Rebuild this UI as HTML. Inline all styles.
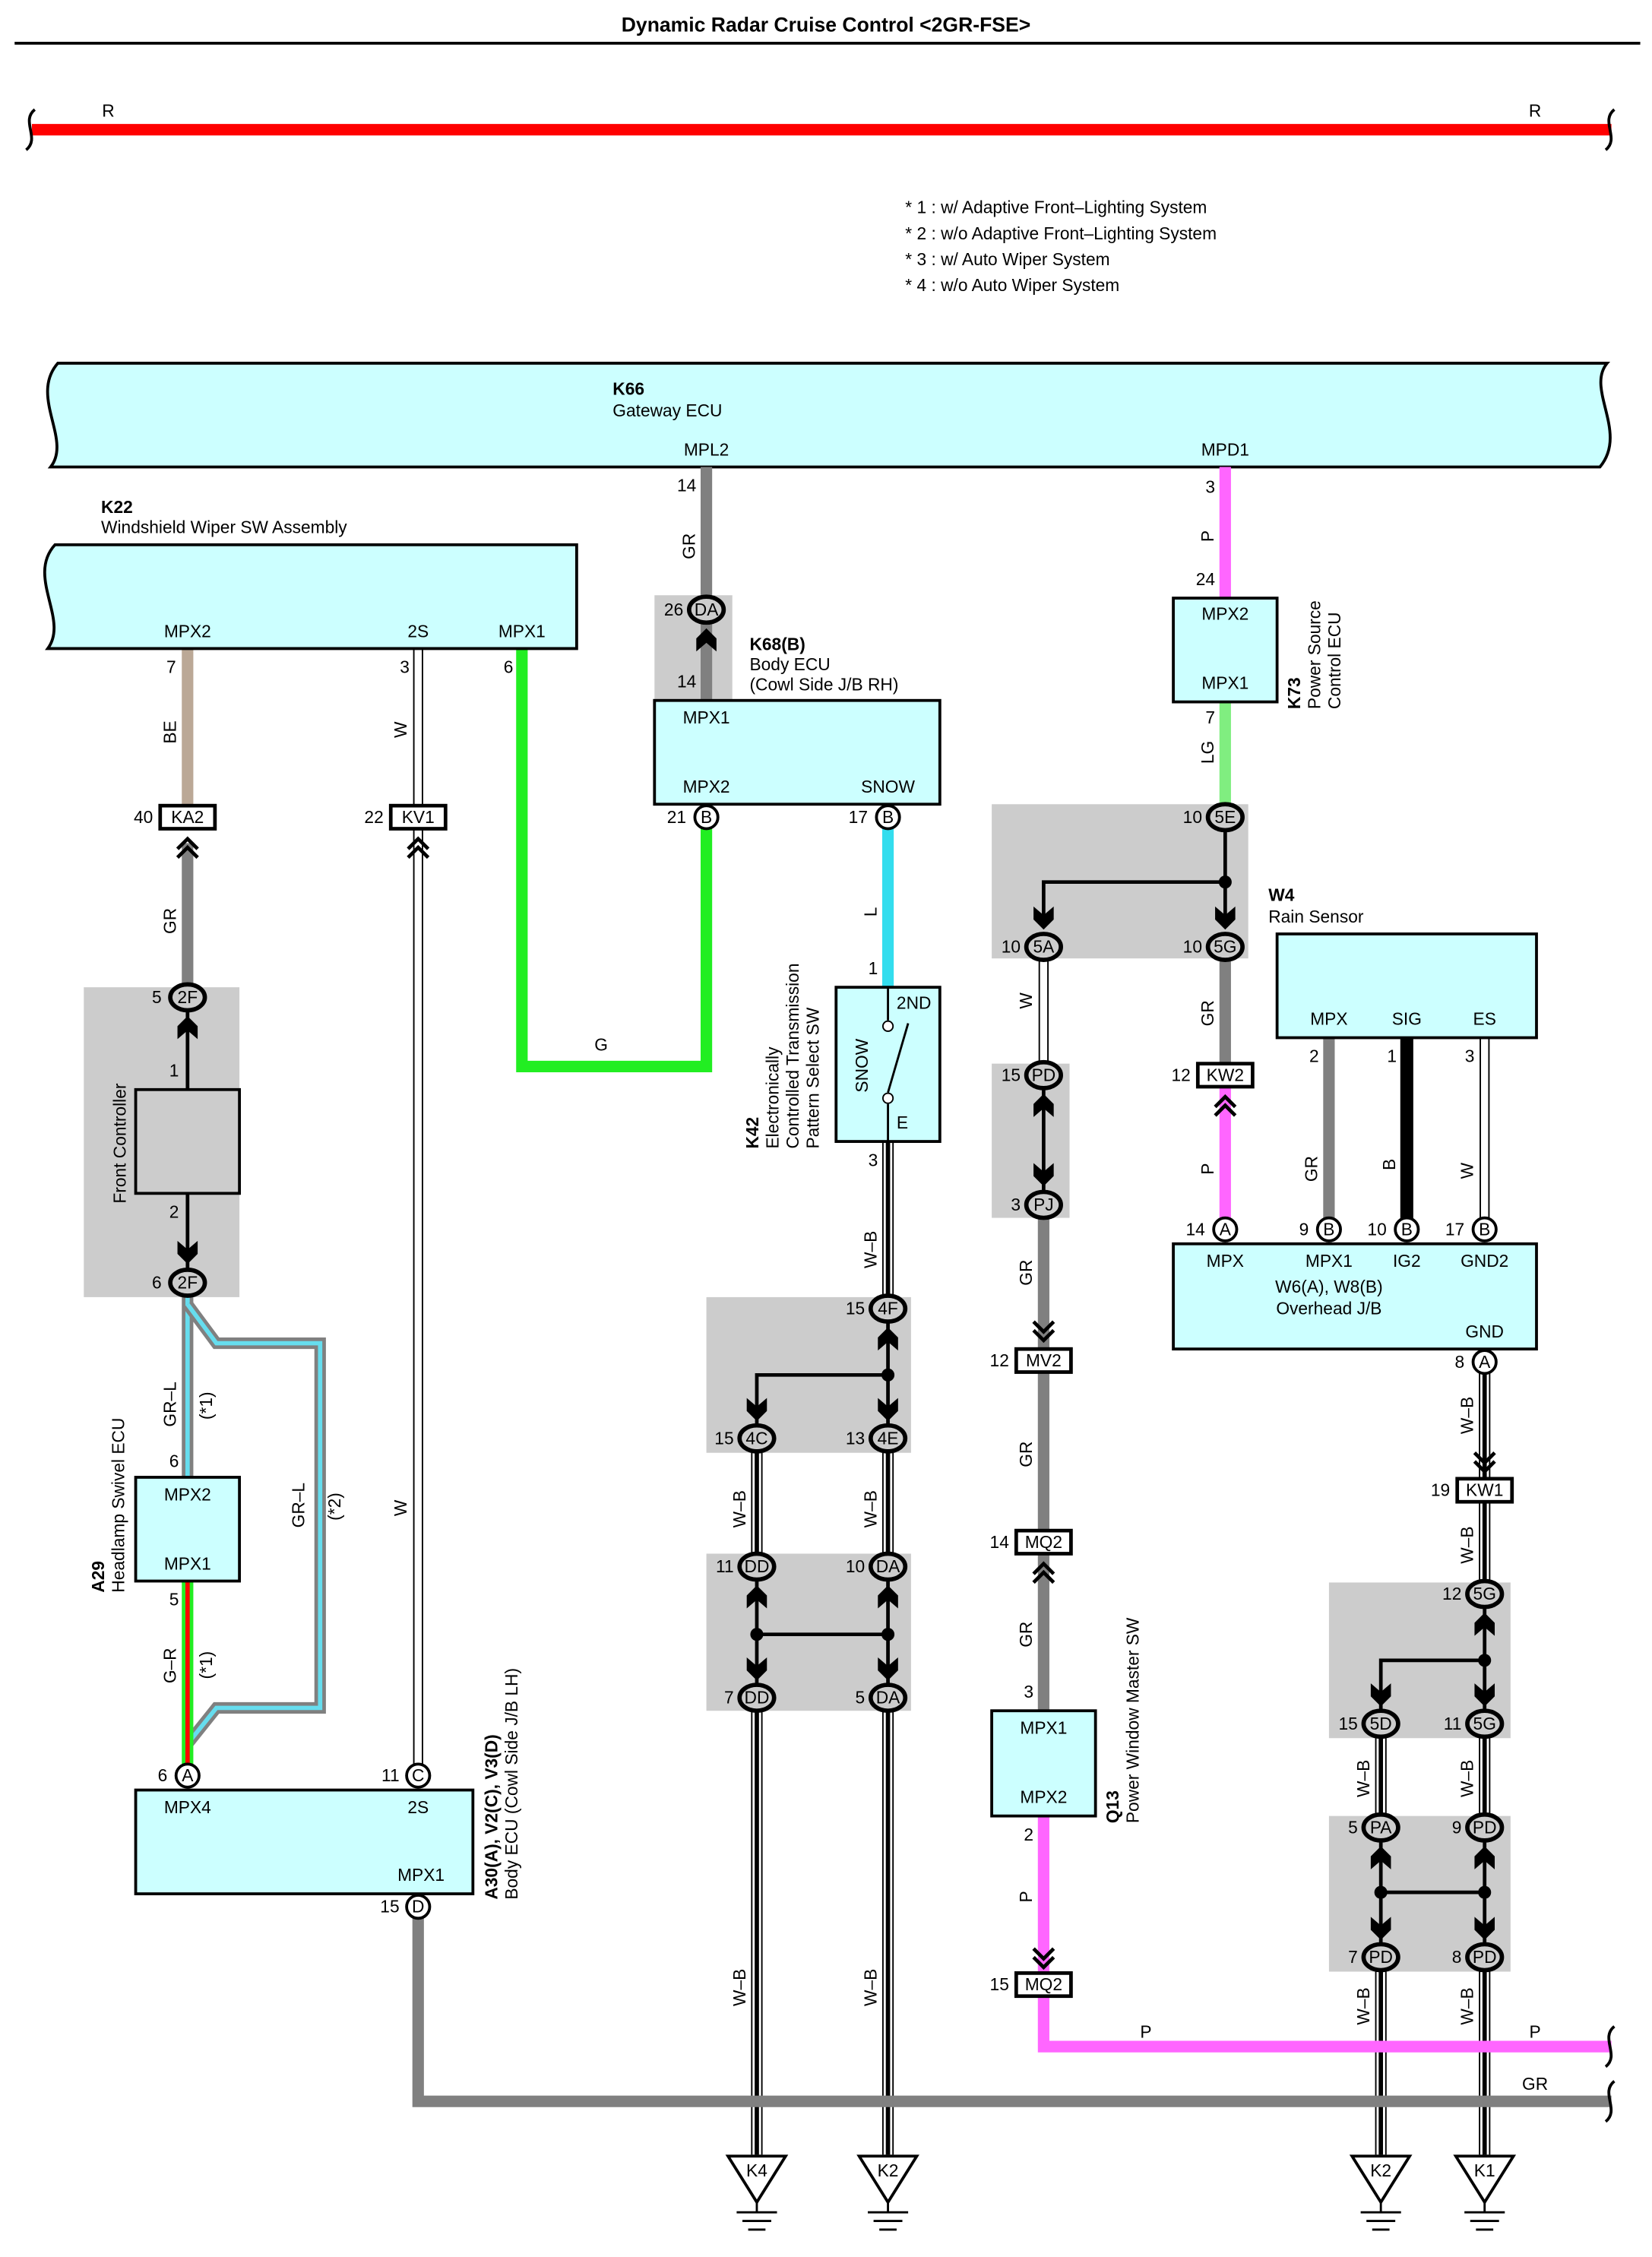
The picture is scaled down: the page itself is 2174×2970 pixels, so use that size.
<!DOCTYPE html>
<html><head><meta charset="utf-8"><style>
html,body{margin:0;padding:0;background:#fff}
svg{display:block}
text{font-family:"Liberation Sans",sans-serif;font-size:12px;fill:#000}
.b{font-weight:bold}
.c{text-anchor:middle}
.e{text-anchor:end}
.cn{font-size:12px;text-anchor:middle}
</style></head><body>
<svg width="2174" height="2970" viewBox="0 0 1146 1566" xmlns="http://www.w3.org/2000/svg">
<defs>
<path id="ad" d="M-7,-9 L-7,0 L0,7 L7,0 L7,-9 L0,-3 Z" fill="#000"/>
<path id="au" d="M-7,9 L-7,0 L0,-7 L7,0 L7,9 L0,3 Z" fill="#000"/>
<path id="cd" d="M-7,-8 L0,-1 L7,-8 M-7,-2 L0,5 L7,-2" stroke="#000" stroke-width="2.5" fill="none"/>
<path id="cu" d="M-7,8 L0,1 L7,8 M-7,2 L0,-5 L7,2" stroke="#000" stroke-width="2.5" fill="none"/>
</defs>
<text x="573" y="22" class="b c" style="font-size:14px">Dynamic Radar Cruise Control &lt;2GR-FSE&gt;</text>
<line x1="10" y1="30" x2="1138" y2="30" stroke="#000" stroke-width="2"/>
<line x1="22" y1="90" x2="1118" y2="90" stroke="#f00" stroke-width="8"/>
<path d="M24,76 C14,84 28,96 18,104" stroke="#000" stroke-width="2" fill="none"/>
<path d="M1120,76 C1110,84 1124,96 1114,104" stroke="#000" stroke-width="2" fill="none"/>
<text x="75" y="81" class="c">R</text><text x="1065" y="81" class="c">R</text>
<text x="628" y="148">* 1 : w/ Adaptive Front–Lighting System</text>
<text x="628" y="166">* 2 : w/o Adaptive Front–Lighting System</text>
<text x="628" y="184">* 3 : w/ Auto Wiper System</text>
<text x="628" y="202">* 4 : w/o Auto Wiper System</text>
<path d="M40,252 L1115,252 C1100,270 1130,300 1110,324 L35,324 C50,305 20,275 40,252 Z" fill="#ccffff" stroke="#000" stroke-width="2"/>
<text x="425" y="274" class="b">K66</text><text x="425" y="289">Gateway ECU</text>
<text x="490" y="316" class="c">MPL2</text><text x="850" y="316" class="c">MPD1</text>
<g fill="#cccccc">
<rect x="454" y="413" width="54" height="73"/>
<rect x="58" y="685" width="108" height="215"/>
<rect x="688" y="558" width="178" height="107"/>
<rect x="688" y="738" width="54" height="107"/>
<rect x="490" y="900" width="142" height="108"/>
<rect x="490" y="1078" width="142" height="109"/>
<rect x="922" y="1098" width="126" height="108"/>
<rect x="922" y="1260" width="126" height="108"/>
</g>
<g fill="none" stroke-linejoin="miter">
<line x1="490" y1="324" x2="490" y2="415" stroke="#808080" stroke-width="8"/>
<line x1="490" y1="430" x2="490" y2="486" stroke="#808080" stroke-width="8"/>
<line x1="850" y1="324" x2="850" y2="415" stroke="#ff66ff" stroke-width="8"/>
<line x1="850" y1="487" x2="850" y2="558" stroke="#80ee80" stroke-width="8"/>
<line x1="130" y1="450" x2="130" y2="558" stroke="#bba896" stroke-width="8"/>
<line x1="130" y1="585" x2="130" y2="685" stroke="#808080" stroke-width="8"/>
<polyline points="362,450 362,740 490,740 490,575" stroke="#22ee22" stroke-width="8"/>
<line x1="616" y1="575" x2="616" y2="685" stroke="#33ddee" stroke-width="8"/>
<polyline points="130,900 130,1025" stroke="#808080" stroke-width="8"/>
<polyline points="130,900 130,1025" stroke="#66ddee" stroke-width="3"/>
<polyline points="130,905 150,932 222,932 222,1185 150,1185 130,1210" stroke="#808080" stroke-width="8"/>
<polyline points="130,905 150,932 222,932 222,1185 150,1185 130,1210" stroke="#66ddee" stroke-width="3"/>
<line x1="130" y1="1097" x2="130" y2="1225" stroke="#22ee22" stroke-width="8"/>
<line x1="130" y1="1097" x2="130" y2="1225" stroke="#f00" stroke-width="3"/>
<g stroke="#000" stroke-width="7"><line x1="290" y1="450" x2="290" y2="1225"/><line x1="724" y1="665" x2="724" y2="738"/><line x1="1030" y1="720" x2="1030" y2="853"/></g>
<g stroke="#fff" stroke-width="5"><line x1="290" y1="450" x2="290" y2="1225"/><line x1="724" y1="665" x2="724" y2="738"/><line x1="1030" y1="720" x2="1030" y2="853"/></g>
<!-- W-B wires -->
<g id="wb" stroke="#000" stroke-width="8">
<line x1="616" y1="792" x2="616" y2="900"/><line x1="616" y1="1008" x2="616" y2="1078"/><line x1="616" y1="1187" x2="616" y2="1495"/>
<line x1="525" y1="1008" x2="525" y2="1078"/><line x1="525" y1="1187" x2="525" y2="1495"/>
<line x1="1030" y1="945" x2="1030" y2="1098"/><line x1="1030" y1="1206" x2="1030" y2="1260"/><line x1="1030" y1="1368" x2="1030" y2="1495"/>
<line x1="958" y1="1206" x2="958" y2="1260"/><line x1="958" y1="1368" x2="958" y2="1495"/>
</g>
<g stroke="#fff" stroke-width="6">
<line x1="616" y1="792" x2="616" y2="900"/><line x1="616" y1="1008" x2="616" y2="1078"/><line x1="616" y1="1187" x2="616" y2="1495"/>
<line x1="525" y1="1008" x2="525" y2="1078"/><line x1="525" y1="1187" x2="525" y2="1495"/>
<line x1="1030" y1="945" x2="1030" y2="1098"/><line x1="1030" y1="1206" x2="1030" y2="1260"/><line x1="1030" y1="1368" x2="1030" y2="1495"/>
<line x1="958" y1="1206" x2="958" y2="1260"/><line x1="958" y1="1368" x2="958" y2="1495"/>
</g>
<g stroke="#000" stroke-width="3">
<line x1="616" y1="792" x2="616" y2="900"/><line x1="616" y1="1008" x2="616" y2="1078"/><line x1="616" y1="1187" x2="616" y2="1495"/>
<line x1="525" y1="1008" x2="525" y2="1078"/><line x1="525" y1="1187" x2="525" y2="1495"/>
<line x1="1030" y1="945" x2="1030" y2="1098"/><line x1="1030" y1="1206" x2="1030" y2="1260"/><line x1="1030" y1="1368" x2="1030" y2="1495"/>
<line x1="958" y1="1206" x2="958" y2="1260"/><line x1="958" y1="1368" x2="958" y2="1495"/>
</g>
<line x1="724" y1="845" x2="724" y2="1187" stroke="#808080" stroke-width="8"/>
<line x1="850" y1="665" x2="850" y2="738" stroke="#808080" stroke-width="8"/>
<line x1="922" y1="720" x2="922" y2="853" stroke="#808080" stroke-width="8"/>
<line x1="976" y1="720" x2="976" y2="853" stroke="#000" stroke-width="9"/>
<polyline points="290,1330 290,1458 1118,1458" stroke="#808080" stroke-width="8"/>
<line x1="850" y1="755" x2="850" y2="853" stroke="#ff66ff" stroke-width="8"/>
<polyline points="724,1260 724,1420 1118,1420" stroke="#ff66ff" stroke-width="8"/>
<g stroke="#000" stroke-width="2.5">
<line x1="850" y1="575" x2="850" y2="640"/><polyline points="850,612 724,612 724,640"/>
<line x1="724" y1="755" x2="724" y2="828"/>
<line x1="616" y1="915" x2="616" y2="990"/><polyline points="616,954 525,954 525,990"/>
<line x1="525" y1="1095" x2="525" y2="1170"/><line x1="616" y1="1095" x2="616" y2="1170"/><line x1="525" y1="1134" x2="616" y2="1134"/>
<line x1="1030" y1="1114" x2="1030" y2="1188"/><polyline points="1030,1152 958,1152 958,1188"/>
<line x1="958" y1="1276" x2="958" y2="1350"/><line x1="1030" y1="1276" x2="1030" y2="1350"/><line x1="958" y1="1313" x2="1030" y2="1313"/>
<line x1="130" y1="700" x2="130" y2="756"/><line x1="130" y1="828" x2="130" y2="882"/>
</g>
</g>
<path d="M1120,1406 C1110,1414 1124,1426 1114,1434" stroke="#000" stroke-width="2" fill="none"/>
<path d="M1120,1444 C1110,1452 1124,1464 1114,1472" stroke="#000" stroke-width="2" fill="none"/>
<g><circle cx="850" cy="612" r="4.5"/><circle cx="616" cy="954" r="4.5"/><circle cx="525" cy="1134" r="4.5"/><circle cx="616" cy="1134" r="4.5"/><circle cx="1030" cy="1152" r="4.5"/><circle cx="958" cy="1313" r="4.5"/><circle cx="1030" cy="1313" r="4.5"/></g>
<path d="M38,378 L400,378 L400,450 L33,450 C48,430 18,400 38,378 Z" fill="#ccffff" stroke="#000" stroke-width="2"/>
<text x="70" y="356" class="b">K22</text><text x="70" y="370">Windshield Wiper SW Assembly</text>
<text x="130" y="442" class="c">MPX2</text><text x="290" y="442" class="c">2S</text><text x="362" y="442" class="c">MPX1</text>
<text x="122" y="467" class="e">7</text><text x="284" y="467" class="e">3</text><text x="356" y="467" class="e">6</text>
<rect x="454" y="486" width="198" height="72" fill="#ccffff" stroke="#000" stroke-width="2"/>
<text x="520" y="451" class="b">K68(B)</text><text x="520" y="465">Body ECU</text><text x="520" y="479">(Cowl Side J/B RH)</text>
<text x="490" y="502" class="c">MPX1</text><text x="490" y="550" class="c">MPX2</text><text x="616" y="550" class="c">SNOW</text>
<text x="483" y="341" class="e">14</text><text x="483" y="477" class="e">14</text>
<rect x="814" y="415" width="72" height="72" fill="#ccffff" stroke="#000" stroke-width="2"/>
<text x="850" y="430" class="c">MPX2</text><text x="850" y="478" class="c">MPX1</text>
<text x="843" y="342" class="e">3</text><text x="843" y="406" class="e">24</text><text x="843" y="502" class="e">7</text>
<g transform="translate(902,492) rotate(-90)"><text class="b">K73</text></g>
<g transform="translate(916,492) rotate(-90)"><text>Power Source</text></g>
<g transform="translate(930,492) rotate(-90)"><text>Control ECU</text></g>
<rect x="94" y="756" width="72" height="72" fill="#cccccc" stroke="#000" stroke-width="2"/>
<g transform="translate(87,835) rotate(-90)"><text>Front Controller</text></g>
<text x="124" y="747" class="e">1</text><text x="124" y="845" class="e">2</text>
<rect x="94" y="1025" width="72" height="72" fill="#ccffff" stroke="#000" stroke-width="2"/>
<text x="130" y="1041" class="c">MPX2</text><text x="130" y="1089" class="c">MPX1</text>
<text x="124" y="1018" class="e">6</text><text x="124" y="1114" class="e">5</text>
<g transform="translate(72,1105) rotate(-90)"><text class="b">A29</text></g>
<g transform="translate(86,1105) rotate(-90)"><text>Headlamp Swivel ECU</text></g>
<rect x="94" y="1242" width="234" height="72" fill="#ccffff" stroke="#000" stroke-width="2"/>
<text x="130" y="1258" class="c">MPX4</text><text x="290" y="1258" class="c">2S</text><text x="292" y="1305" class="c">MPX1</text>
<text x="116" y="1236" class="e">6</text><text x="277" y="1236" class="e">11</text><text x="277" y="1327" class="e">15</text>
<g transform="translate(345,1318) rotate(-90)"><text class="b">A30(A), V2(C), V3(D)</text></g>
<g transform="translate(359,1318) rotate(-90)"><text>Body ECU (Cowl Side J/B LH)</text></g>
<rect x="580" y="685" width="72" height="107" fill="#ccffff" stroke="#000" stroke-width="2"/>
<text x="634" y="700" class="c">2ND</text><text x="626" y="783" class="c">E</text>
<g transform="translate(602,758) rotate(-90)"><text>SNOW</text></g>
<line x1="616" y1="685" x2="616" y2="708" stroke="#000" stroke-width="1.5"/><line x1="616" y1="766" x2="616" y2="792" stroke="#000" stroke-width="1.5"/>
<circle cx="616" cy="712" r="3.5" fill="#fff" stroke="#000"/><circle cx="616" cy="762" r="3.5" fill="#fff" stroke="#000"/>
<line x1="616" y1="758" x2="630" y2="710" stroke="#000" stroke-width="1.5"/>
<text x="609" y="676" class="e">1</text><text x="609" y="809" class="e">3</text>
<g transform="translate(526,797) rotate(-90)"><text class="b">K42</text></g>
<g transform="translate(540,797) rotate(-90)"><text>Electronically</text></g>
<g transform="translate(554,797) rotate(-90)"><text>Controlled Transmission</text></g>
<g transform="translate(568,797) rotate(-90)"><text>Pattern Select SW</text></g>
<rect x="688" y="1187" width="72" height="73" fill="#ccffff" stroke="#000" stroke-width="2"/>
<text x="724" y="1203" class="c">MPX1</text><text x="724" y="1251" class="c">MPX2</text>
<text x="717" y="1178" class="e">3</text><text x="717" y="1277" class="e">2</text>
<g transform="translate(776,1265) rotate(-90)"><text class="b">Q13</text></g>
<g transform="translate(790,1265) rotate(-90)"><text>Power Window Master SW</text></g>
<rect x="886" y="648" width="180" height="72" fill="#ccffff" stroke="#000" stroke-width="2"/>
<text x="880" y="625" class="b">W4</text><text x="880" y="640">Rain Sensor</text>
<text x="922" y="711" class="c">MPX</text><text x="976" y="711" class="c">SIG</text><text x="1030" y="711" class="c">ES</text>
<text x="915" y="737" class="e">2</text><text x="969" y="737" class="e">1</text><text x="1023" y="737" class="e">3</text>
<rect x="814" y="863" width="252" height="73" fill="#ccffff" stroke="#000" stroke-width="2"/>
<text x="850" y="879" class="c">MPX</text><text x="922" y="879" class="c">MPX1</text><text x="976" y="879" class="c">IG2</text><text x="1030" y="879" class="c">GND2</text>
<text x="922" y="897" class="c">W6(A), W8(B)</text><text x="922" y="912" class="c">Overhead J/B</text><text x="1030" y="928" class="c">GND</text>
<g transform="translate(482,388) rotate(-90)"><text>GR</text></g>
<g transform="translate(842,376) rotate(-90)"><text>P</text></g>
<g transform="translate(842,530) rotate(-90)"><text>LG</text></g>
<g transform="translate(122,516) rotate(-90)"><text>BE</text></g>
<g transform="translate(122,648) rotate(-90)"><text>GR</text></g>
<g transform="translate(282,512) rotate(-90)"><text>W</text></g>
<g transform="translate(282,1052) rotate(-90)"><text>W</text></g>
<g transform="translate(608,636) rotate(-90)"><text>L</text></g>
<g transform="translate(122,990) rotate(-90)"><text>GR–L</text></g>
<g transform="translate(147,985) rotate(-90)"><text>(*1)</text></g>
<g transform="translate(211,1060) rotate(-90)"><text>GR–L</text></g>
<g transform="translate(236,1055) rotate(-90)"><text>(*2)</text></g>
<g transform="translate(122,1168) rotate(-90)"><text>G–R</text></g>
<g transform="translate(147,1165) rotate(-90)"><text>(*1)</text></g>
<g transform="translate(608,880) rotate(-90)"><text>W–B</text></g>
<g transform="translate(517,1060) rotate(-90)"><text>W–B</text></g>
<g transform="translate(608,1060) rotate(-90)"><text>W–B</text></g>
<g transform="translate(517,1392) rotate(-90)"><text>W–B</text></g>
<g transform="translate(608,1392) rotate(-90)"><text>W–B</text></g>
<g transform="translate(716,700) rotate(-90)"><text>W</text></g>
<g transform="translate(716,892) rotate(-90)"><text>GR</text></g>
<g transform="translate(716,1018) rotate(-90)"><text>GR</text></g>
<g transform="translate(716,1143) rotate(-90)"><text>GR</text></g>
<g transform="translate(716,1320) rotate(-90)"><text>P</text></g>
<g transform="translate(842,712) rotate(-90)"><text>GR</text></g>
<g transform="translate(842,815) rotate(-90)"><text>P</text></g>
<g transform="translate(914,820) rotate(-90)"><text>GR</text></g>
<g transform="translate(968,812) rotate(-90)"><text>B</text></g>
<g transform="translate(1022,818) rotate(-90)"><text>W</text></g>
<g transform="translate(1022,995) rotate(-90)"><text>W–B</text></g>
<g transform="translate(1022,1085) rotate(-90)"><text>W–B</text></g>
<g transform="translate(950,1247) rotate(-90)"><text>W–B</text></g>
<g transform="translate(1022,1247) rotate(-90)"><text>W–B</text></g>
<g transform="translate(950,1405) rotate(-90)"><text>W–B</text></g>
<g transform="translate(1022,1405) rotate(-90)"><text>W–B</text></g>
<text x="417" y="729" class="c">G</text>
<text x="795" y="1414" class="c">P</text><text x="1065" y="1414" class="c">P</text><text x="1065" y="1450" class="c">GR</text>
<g fill="#fff" stroke="#000" stroke-width="2.5">
<rect x="111" y="559" width="38" height="16"/><rect x="271" y="559" width="38" height="16"/>
<rect x="831" y="738" width="38" height="16"/><rect x="705" y="936" width="38" height="16"/>
<rect x="705" y="1062" width="38" height="16"/><rect x="705" y="1369" width="38" height="16"/>
<rect x="1011" y="1026" width="38" height="16"/>
</g>
<text x="130" y="571" class="cn">KA2</text><text x="290" y="571" class="cn">KV1</text>
<text x="850" y="750" class="cn">KW2</text><text x="724" y="948" class="cn">MV2</text>
<text x="724" y="1074" class="cn">MQ2</text><text x="724" y="1381" class="cn">MQ2</text>
<text x="1030" y="1038" class="cn">KW1</text>
<text x="106" y="571" class="e">40</text><text x="266" y="571" class="e">22</text><text x="826" y="750" class="e">12</text>
<text x="700" y="948" class="e">12</text><text x="700" y="1074" class="e">14</text><text x="700" y="1381" class="e">15</text><text x="1006" y="1038" class="e">19</text>
<use href="#cu" x="130" y="587"/><use href="#cu" x="290" y="587"/><use href="#cu" x="850" y="766"/>
<use href="#cd" x="724" y="925"/><use href="#cu" x="724" y="1090"/><use href="#cd" x="724" y="1360"/><use href="#cd" x="1030" y="1016"/>
<use href="#au" x="130" y="712"/><use href="#ad" x="130" y="870"/>
<use href="#ad" x="724" y="638"/><use href="#ad" x="850" y="638"/>
<use href="#au" x="724" y="766"/><use href="#ad" x="724" y="816"/>
<use href="#au" x="616" y="928"/><use href="#ad" x="525" y="979"/><use href="#ad" x="616" y="979"/>
<use href="#au" x="525" y="1107"/><use href="#au" x="616" y="1107"/><use href="#ad" x="525" y="1159"/><use href="#ad" x="616" y="1159"/>
<use href="#au" x="1030" y="1126"/><use href="#ad" x="958" y="1177"/><use href="#ad" x="1030" y="1177"/>
<use href="#au" x="958" y="1288"/><use href="#au" x="1030" y="1288"/><use href="#ad" x="958" y="1339"/><use href="#ad" x="1030" y="1339"/>
<use href="#au" x="490" y="443"/>
<g fill="#cccccc" stroke="#000" stroke-width="3">
<ellipse cx="490" cy="423" rx="12" ry="9"/><ellipse cx="130" cy="692" rx="12" ry="9"/><ellipse cx="130" cy="890" rx="12" ry="9"/>
<ellipse cx="850" cy="567" rx="12" ry="9"/><ellipse cx="724" cy="657" rx="12" ry="9"/><ellipse cx="850" cy="657" rx="12" ry="9"/>
<ellipse cx="724" cy="746" rx="12" ry="9"/><ellipse cx="724" cy="836" rx="12" ry="9"/>
<ellipse cx="616" cy="908" rx="12" ry="9"/><ellipse cx="525" cy="998" rx="12" ry="9"/><ellipse cx="616" cy="998" rx="12" ry="9"/>
<ellipse cx="525" cy="1087" rx="12" ry="9"/><ellipse cx="616" cy="1087" rx="12" ry="9"/><ellipse cx="525" cy="1178" rx="12" ry="9"/><ellipse cx="616" cy="1178" rx="12" ry="9"/>
<ellipse cx="1030" cy="1106" rx="12" ry="9"/><ellipse cx="958" cy="1196" rx="12" ry="9"/><ellipse cx="1030" cy="1196" rx="12" ry="9"/>
<ellipse cx="958" cy="1268" rx="12" ry="9"/><ellipse cx="1030" cy="1268" rx="12" ry="9"/><ellipse cx="958" cy="1358" rx="12" ry="9"/><ellipse cx="1030" cy="1358" rx="12" ry="9"/>
</g>
<text x="490" y="427" class="cn">DA</text><text x="130" y="696" class="cn">2F</text><text x="130" y="894" class="cn">2F</text>
<text x="850" y="571" class="cn">5E</text><text x="724" y="661" class="cn">5A</text><text x="850" y="661" class="cn">5G</text>
<text x="724" y="750" class="cn">PD</text><text x="724" y="840" class="cn">PJ</text>
<text x="616" y="912" class="cn">4F</text><text x="525" y="1002" class="cn">4C</text><text x="616" y="1002" class="cn">4E</text>
<text x="525" y="1091" class="cn">DD</text><text x="616" y="1091" class="cn">DA</text><text x="525" y="1182" class="cn">DD</text><text x="616" y="1182" class="cn">DA</text>
<text x="1030" y="1110" class="cn">5G</text><text x="958" y="1200" class="cn">5D</text><text x="1030" y="1200" class="cn">5G</text>
<text x="958" y="1272" class="cn">PA</text><text x="1030" y="1272" class="cn">PD</text><text x="958" y="1362" class="cn">PD</text><text x="1030" y="1362" class="cn">PD</text>
<text x="474" y="427" class="e">26</text><text x="112" y="696" class="e">5</text><text x="112" y="894" class="e">6</text>
<text x="834" y="571" class="e">10</text><text x="708" y="661" class="e">10</text><text x="834" y="661" class="e">10</text>
<text x="708" y="750" class="e">15</text><text x="708" y="840" class="e">3</text>
<text x="600" y="912" class="e">15</text><text x="509" y="1002" class="e">15</text><text x="600" y="1002" class="e">13</text>
<text x="509" y="1091" class="e">11</text><text x="600" y="1091" class="e">10</text><text x="509" y="1182" class="e">7</text><text x="600" y="1182" class="e">5</text>
<text x="1014" y="1110" class="e">12</text><text x="942" y="1200" class="e">15</text><text x="1014" y="1200" class="e">11</text>
<text x="942" y="1272" class="e">5</text><text x="1014" y="1272" class="e">9</text><text x="942" y="1362" class="e">7</text><text x="1014" y="1362" class="e">8</text>
<g fill="#fff" stroke="#000" stroke-width="2">
<circle cx="490" cy="567" r="8"/><circle cx="616" cy="567" r="8"/>
<circle cx="130" cy="1232" r="8"/><circle cx="290" cy="1232" r="8"/><circle cx="290" cy="1323" r="8"/>
<circle cx="850" cy="853" r="8"/><circle cx="922" cy="853" r="8"/><circle cx="976" cy="853" r="8"/><circle cx="1030" cy="853" r="8"/><circle cx="1030" cy="945" r="8"/>
</g>
<text x="490" y="571" class="cn">B</text><text x="616" y="571" class="cn">B</text>
<text x="130" y="1236" class="cn">A</text><text x="290" y="1236" class="cn">C</text><text x="290" y="1327" class="cn">D</text>
<text x="850" y="857" class="cn">A</text><text x="922" y="857" class="cn">B</text><text x="976" y="857" class="cn">B</text><text x="1030" y="857" class="cn">B</text><text x="1030" y="949" class="cn">A</text>
<text x="476" y="571" class="e">21</text><text x="602" y="571" class="e">17</text>
<text x="836" y="857" class="e">14</text><text x="908" y="857" class="e">9</text><text x="962" y="857" class="e">10</text><text x="1016" y="857" class="e">17</text><text x="1016" y="949" class="e">8</text>
<g stroke="#000" stroke-width="2" fill="#fff">
<path d="M505,1496 L545,1496 L525,1528 Z"/><path d="M596,1496 L636,1496 L616,1528 Z"/>
<path d="M938,1496 L978,1496 L958,1528 Z"/><path d="M1010,1496 L1050,1496 L1030,1528 Z"/>
</g>
<g stroke="#000" stroke-width="1.5">
<path d="M525,1528 V1535 M511,1535 H539 M515,1541 H535 M519,1547 H531"/>
<path d="M616,1528 V1535 M602,1535 H630 M606,1541 H626 M610,1547 H622"/>
<path d="M958,1528 V1535 M944,1535 H972 M948,1541 H968 M952,1547 H964"/>
<path d="M1030,1528 V1535 M1016,1535 H1044 M1020,1541 H1040 M1024,1547 H1036"/>
</g>
<text x="525" y="1510" class="cn">K4</text><text x="616" y="1510" class="cn">K2</text><text x="958" y="1510" class="cn">K2</text><text x="1030" y="1510" class="cn">K1</text>
</svg>
</body></html>
